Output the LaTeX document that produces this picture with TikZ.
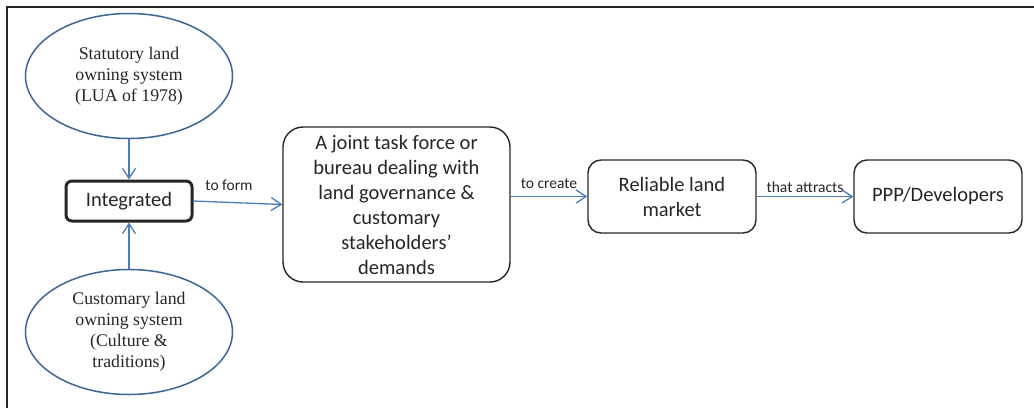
\documentclass[tikz,border=0pt]{standalone}
\usepackage{fontspec}
\setmainfont{Liberation Serif}
\newfontfamily\calibri{Carlito}
\usetikzlibrary{positioning,arrows.meta,shapes.geometric}
\definecolor{ovalblue}{HTML}{3C6496}
\definecolor{arrowblue}{HTML}{4A7EBB}

\begin{document}
\begin{tikzpicture}[
  x=1pt,
  y=-1pt,
  oval/.style={
    ellipse,
    draw=ovalblue,
    line width=1.5pt,
    inner sep=0pt,
    minimum width=207pt,
    minimum height=125pt,
    align=center,
    text=black!85,
    font=\fontsize{17.8}{21}\selectfont
  },
  box/.style={
    rectangle,
    draw=black!85,
    line width=1.4pt,
    rounded corners=13pt,
    inner sep=0pt,
    minimum width=168pt,
    minimum height=73pt,
    align=center,
    text=black!85,
    font=\calibri\fontsize{20.5}{25}\selectfont
  },
  link/.style={draw=arrowblue,line width=1.3pt,-{Straight Barb[length=10pt,width=13pt]}},
  lbl/.style={font=\calibri\fontsize{15.5}{18}\selectfont,inner sep=0pt,text=black!85}
]
  \useasboundingbox (0,0) rectangle (1034,408);
  \draw[line width=2pt,black!85] (7,408) -- (7,7) -- (1034,7);

  \coordinate (p1) at (129, 76);
  \coordinate (p2) at (129,201);
  \coordinate (p3) at (129,332);
  \coordinate (p4) at (396.5,204.5);
  \coordinate (p5) at (672,196.5);
  \coordinate (p6) at (938,196.5);

  \node[oval] (statutory) at (p1) {Statutory land\\owning system\\(LUA of 1978)};
  \node[oval] (customary) at (p3) {Customary land\\owning system\\(Culture \&\\traditions)};
  \node[box,line width=3pt,rounded corners=6pt,minimum width=126pt,minimum height=40pt] (integrated) at (p2) {Integrated};
  \node[box,rounded corners=20pt,minimum width=227pt,minimum height=155pt] (taskforce) at (p4)
    {A joint task force or\\bureau dealing with\\land governance \&\\customary\\stakeholders’\\demands};
  \node[box] (reliable) at (p5) {Reliable land\\market};
  \node[box] (ppp) at (p6) {PPP/Developers};

  \draw[link] (statutory) -- (integrated);
  \draw[link] (customary) -- (integrated);
  \draw[link] (integrated.east) -- node[lbl,above=11pt,pos=0.4] {to form} (taskforce.west);
  \draw[link] (taskforce.east |- reliable.west) -- node[lbl,above=7pt] {to create} (reliable.west);
  \draw[link] (reliable) -- node[lbl,above=3pt] {that attracts} (ppp);
\end{tikzpicture}
\end{document}
